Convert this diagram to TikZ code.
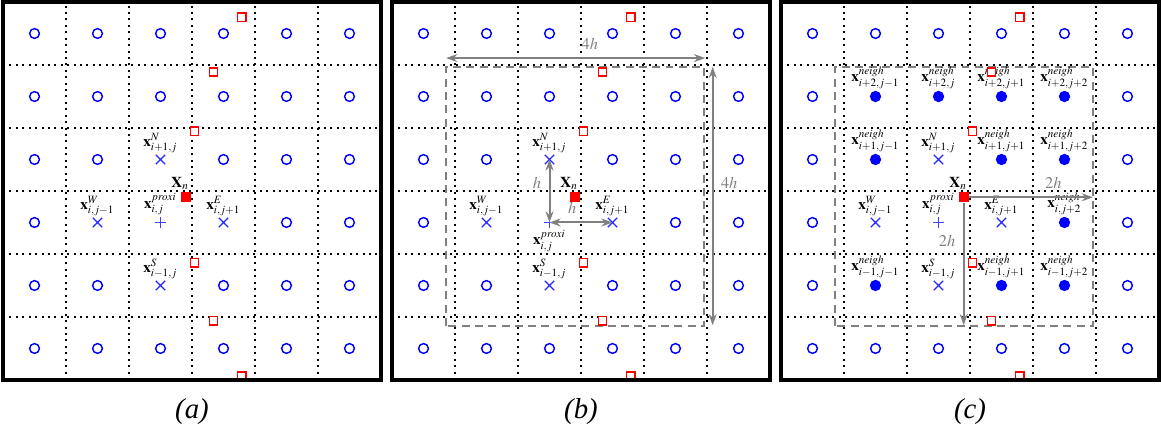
\documentclass[tikz,border=0pt]{standalone}
\usepackage{mathptmx}
\usepackage[no-math]{fontspec}
\setmainfont{Liberation Serif}
\usetikzlibrary{arrows.meta, shapes.misc}
\tikzset{
	cellgrid/.style={dotted, line width=0.9pt},
	panelframe/.style={draw, line width=1.4pt},
	gridpt/.style={circle, draw=blue, line width=0.65pt, minimum size=0.155cm, inner sep=0pt},
	neighpt/.style={circle, fill=blue, minimum size=0.18cm, inner sep=0pt},
	stencilpt/.style={cross out, draw=blue!85, line width=0.5pt, minimum size=0.13cm, inner sep=0pt},
	proxipt/.style={rectangle, minimum size=0.17cm, inner sep=0pt,
		path picture={\draw[blue!75, line width=0.6pt] (path picture bounding box.north) -- (path picture bounding box.south)
			(path picture bounding box.west) -- (path picture bounding box.east);}},
	samplept/.style={rectangle, draw=red, fill=white, line width=0.6pt, minimum size=0.13cm, inner sep=0pt},
	samplen/.style={rectangle, fill=red, minimum size=0.165cm, inner sep=0pt},
	lbl/.style={font=\fontsize{6.8}{8}\selectfont, inner sep=0.6pt},
	boxline/.style={draw=gray, line width=0.9pt, dash pattern=on 3.6pt off 2.4pt},
	dimarr/.style={draw=gray, line width=0.9pt, {Stealth[length=5pt,width=3.6pt]}-{Stealth[length=5pt,width=3.6pt]}},
	radarr/.style={draw=gray, line width=0.9pt, -{Stealth[length=5pt,width=3.6pt]}},
	dimlbl/.style={font=\fontsize{7.4}{9}\selectfont, text=gray},
	caption/.style={font=\fontsize{13}{15}\selectfont\itshape},
}

\begin{document}
\begin{tikzpicture}
	\useasboundingbox (-0.048,-0.873) rectangle (18.382,6.032);
	% cells, grid points and stencil of each panel
	\foreach \p/\dx/\nb in {a/0/0, b/6.175/0, c/12.35/1}{
		\begin{scope}[xshift=\dx cm]
			\foreach \k in {1,...,5}{
				\draw[cellgrid] (\k,0) -- (\k,6);
				\draw[cellgrid] (0,\k) -- (6,\k);
			}
			\foreach \i in {0,...,5}{
				\foreach \j in {0,...,5}{
					\pgfmathtruncatemacro\hideit{(abs(\i-2)+abs(\j-2)<=1) || (\nb==1 && \i>0 && \i<5 && \j>0 && \j<5)}
					\ifnum\hideit=0
						\node[gridpt] (\p-\i-\j) at (\i+0.5,\j+0.5) {};
					\fi
				}
			}
			\node[stencilpt, label={[lbl]above:$\mathbf{x}^N_{i+1,j}$}] (\p-N) at (2.5,3.5) {};
			\node[stencilpt, label={[lbl]above:$\mathbf{x}^W_{i,j-1}$}] (\p-W) at (1.5,2.5) {};
			\node[stencilpt, label={[lbl]above:$\mathbf{x}^E_{i,j+1}$}] (\p-E) at (3.5,2.5) {};
			\node[stencilpt, label={[lbl]above:$\mathbf{x}^S_{i-1,j}$}] (\p-S) at (2.5,1.5) {};
			\node[proxipt] (\p-prox) at (2.5,2.5) {};
			\node[samplen, label={[lbl, xshift=-2.5pt]above:$\mathbf{X}_n$}] (\p-Xn) at (2.9,2.9) {};
		\end{scope}
	}

	% (a)
	\node[lbl, anchor=south] (a-proxl) at (a-prox.north) {$\mathbf{x}^{proxi}_{i,j}$};

	% (b)
	\begin{scope}[xshift=6.175cm]
		\node[lbl, anchor=north] (b-proxl) at (b-prox.south) {$\mathbf{x}^{proxi}_{i,j}$};
		\coordinate (b-bl) at (0.86,0.86);
		\coordinate (b-tr) at (4.95,4.97);
		\draw[boxline] (b-bl) rectangle (b-tr);
		\coordinate (b-hl) at (0.86,5.11);
		\coordinate (b-hr) at (4.97,5.11);
		\coordinate (b-vt) at (5.09,4.97);
		\coordinate (b-vb) at (5.09,0.87);
		\draw[dimarr] (b-hl) -- node[dimlbl, above, pos=0.555] {$4h$} (b-hr);
		\draw[dimarr] (b-vt) -- node[dimlbl, right, pos=0.45] {$4h$} (b-vb);
		\draw[dimarr] (b-prox.center) -- node[dimlbl, left, pos=0.62] {$h$} (b-N.center);
		\draw[dimarr] (b-prox.center) -- node[dimlbl, above, pos=0.36] {$h$} (b-E.center);
	\end{scope}

	% (c)
	\begin{scope}[xshift=12.35cm]
		\node[lbl, anchor=south] (c-proxl) at (c-prox.north) {$\mathbf{x}^{proxi}_{i,j}$};
		\coordinate (c-bl) at (0.86,0.86);
		\coordinate (c-tr) at (4.95,4.97);
		\draw[boxline] (c-bl) rectangle (c-tr);
		\foreach \x/\y/\s [count=\n] in {1.5/4.5/{i+2,j-1}, 2.5/4.5/{i+2,j}, 3.5/4.5/{i+2,j+1}, 4.5/4.5/{i+2,j+2},
				1.5/3.5/{i+1,j-1}, 3.5/3.5/{i+1,j+1}, 4.5/3.5/{i+1,j+2}, 4.5/2.5/{i,j+2},
				1.5/1.5/{i-1,j-1}, 3.5/1.5/{i-1,j+1}, 4.5/1.5/{i-1,j+2}}
			\node[neighpt, label={[lbl]above:$\mathbf{x}^{neigh}_{\s}$}] (c-nb\n) at (\x,\y) {};
		\coordinate (c-hr) at (4.95,2.9);
		\coordinate (c-vb) at (2.9,0.87);
		\draw[radarr] (c-Xn) -- node[dimlbl, above, pos=0.68] {$2h$} (c-hr);
		\draw[radarr] (c-Xn) -- node[dimlbl, left, pos=0.31] {$2h$} (c-vb);
	\end{scope}

	% samples along the curve, frames and captions
	\foreach \p/\dx in {a/0, b/6.175, c/12.35}{
		\begin{scope}[xshift=\dx cm]
			\foreach \sx/\sy [count=\n] in {3.79/5.76, 3.34/4.89, 3.04/3.95, 3.04/1.86, 3.34/0.94, 3.79/0.06}
				\node[samplept] (\p-s\n) at (\sx,\sy) {};
			\node[samplen] at (\p-Xn) {};
			\draw[panelframe] (0,0) rectangle (6,6);
			\node[caption] (\p-cap) at (3,-0.508) {(\p)};
		\end{scope}
	}
\end{tikzpicture}
\end{document}
